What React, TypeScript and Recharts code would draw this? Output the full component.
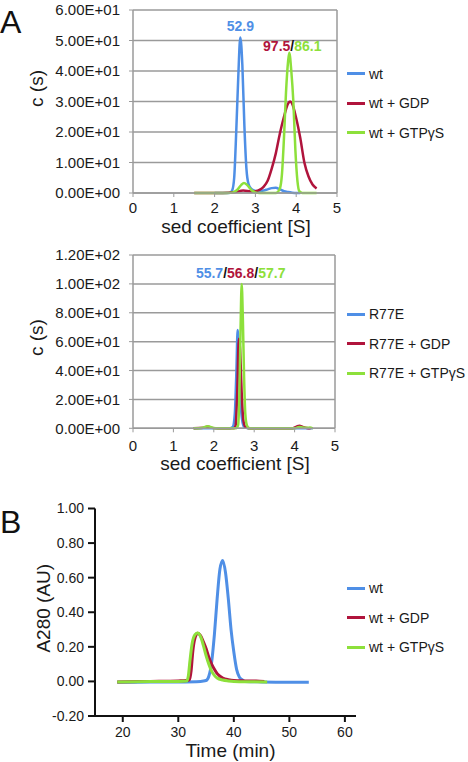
import { CartesianGrid, Legend, Line, LineChart, ReferenceDot, ReferenceLine, XAxis, YAxis } from 'recharts';

const FONT = "'Liberation Sans', Arial, Helvetica, sans-serif";
const BLUE = '#4f8fe6';
const RED = '#b0143c';
const GREEN = '#8de03b';
const GRID = '#9a9a9a';
const INK = '#1a1a1a';

// axes
const sedTicks = [0, 1, 2, 3, 4, 5];
const wtYTicks = [0, 10, 20, 30, 40, 50, 60];
const r77YTicks = [0, 20, 40, 60, 80, 100, 120];
const timeTicks = [20, 30, 40, 50, 60];
const absTicks = [-0.2, 0, 0.2, 0.4, 0.6, 0.8, 1.0];

const wtNames = ['wt', 'wt + GDP', 'wt + GTPγS'];
const r77Names = ['R77E', 'R77E + GDP', 'R77E + GTPγS'];

// A, top: wt c(s)
const wtSedX = [2.0, 2.3, 2.38, 2.43, 2.48, 2.53, 2.58, 2.63, 2.68, 2.73, 2.78, 2.83, 2.9, 3.0, 3.1, 3.2, 3.3, 3.4, 3.5, 3.6, 3.7, 3.8, 3.9, 4.0, 4.1];
const wtSedC = [0, 0, 0.1, 0.8, 5, 20, 38, 51, 42, 22, 8, 3, 1.3, 0.7, 0.6, 0.8, 1.2, 1.6, 1.7, 1.2, 0.6, 0.3, 0.1, 0, 0];
const gdpSedX = [1.5, 2.2, 2.5, 2.7, 2.9, 3.0, 3.1, 3.2, 3.3, 3.4, 3.5, 3.6, 3.7, 3.8, 3.85, 3.9, 4.0, 4.1, 4.2, 4.3, 4.4, 4.5];
const gdpSedC = [0, 0, 0.3, 0.8, 0.5, 0.6, 1.0, 2.0, 4.0, 8.0, 13, 19.5, 25, 29.3, 30, 29.3, 24.5, 18, 10, 5.5, 2.8, 1.5];
const gtpSedX = [1.5, 2.3, 2.45, 2.55, 2.65, 2.72, 2.8, 2.9, 3.0, 3.1, 3.5, 3.6, 3.65, 3.7, 3.75, 3.8, 3.83, 3.88, 3.93, 3.98, 4.03, 4.08, 4.15, 4.5];
const gtpSedC = [0, 0, 0.2, 1.0, 2.6, 3.3, 2.6, 1.0, 0.2, 0, 0, 1.5, 6, 18, 33, 43, 46, 40, 30, 14, 4, 0.5, 0, 0];

// A, bottom: R77E c(s)
const r77SedX = [1.5, 2.4, 2.47, 2.52, 2.56, 2.59, 2.62, 2.66, 2.7, 2.75, 2.85, 4.45];
const r77SedC = [0, 0, 1, 10, 40, 68, 50, 20, 6, 1, 0, 0];
const r77GdpX = [1.5, 1.75, 1.85, 1.95, 2.1, 2.5, 2.54, 2.58, 2.62, 2.65, 2.69, 2.73, 2.78, 2.9, 3.95, 4.05, 4.12, 4.2, 4.3, 4.4];
const r77GdpC = [0, 0.3, 1.2, 0.3, 0, 0, 2, 25, 62, 55, 25, 6, 1, 0, 0, 1.2, 1.8, 1, 0.2, 0];
const r77GtpX = [1.5, 1.7, 1.78, 1.85, 1.92, 2.0, 2.1, 2.55, 2.6, 2.63, 2.66, 2.69, 2.72, 2.75, 2.78, 2.82, 2.88, 4.0, 4.07, 4.13, 4.2, 4.3, 4.38, 4.45];
const r77GtpC = [0, 0.2, 1, 1.5, 1, 0.2, 0, 0, 2, 20, 65, 100, 75, 35, 10, 2, 0, 0, 0.6, 0.9, 0.5, 0.3, 0.5, 0];

// peak labels (value texts, which series colours them)
const wtPeaks = [
  { x: 2.63, y: 51, texts: ['52.9'], series: [0] },
  { x: 3.83, y: 46, texts: ['97.5', '86.1'], series: [1, 2] },
];
const r77Peaks = [{ x: 2.69, y: 100, texts: ['55.7', '56.8', '57.7'], series: [0, 1, 2] }];

// B: A280 vs time
const wtTime = [19, 25, 30, 34, 35, 35.5, 36, 36.5, 37, 37.5, 38, 38.5, 39, 39.5, 40, 40.5, 41, 41.5, 42, 45, 50, 53.5];
const wtA280 = [-0.005, -0.004, -0.003, 0, 0.005, 0.03, 0.11, 0.27, 0.48, 0.65, 0.7, 0.63, 0.48, 0.3, 0.17, 0.07, 0.025, 0.01, 0, -0.003, -0.005, -0.005];
const gdpTime = [19, 25, 30, 31.5, 32, 32.3, 32.6, 33, 33.5, 34, 34.5, 35, 35.5, 36, 36.5, 37, 37.5, 38, 39, 40, 42, 44, 45.5];
const gdpA280 = [-0.003, 0, 0.003, 0.005, 0.01, 0.06, 0.17, 0.25, 0.278, 0.265, 0.23, 0.19, 0.14, 0.1, 0.07, 0.045, 0.03, 0.02, 0.01, 0.005, 0.003, 0.002, 0];
const gtpTime = [19, 25, 30, 31.5, 31.8, 32.1, 32.5, 33, 33.5, 34, 34.5, 35, 35.5, 36, 36.5, 37, 38, 39, 40, 43, 46];
const gtpA280 = [-0.003, 0, 0, 0.002, 0.03, 0.12, 0.22, 0.27, 0.28, 0.26, 0.21, 0.15, 0.1, 0.06, 0.035, 0.02, 0.008, 0.003, 0, -0.002, -0.003];

const COLORS = [BLUE, RED, GREEN];
const toPoints = (xs: number[], ys: number[]) => xs.map((x, i) => ({ x, y: ys[i] }));

const sci = (v: number) => {
  const [m, e] = v.toExponential(2).split('e');
  return `${m}E${e[0]}${e.slice(1).padStart(2, '0')}`;
};

const renderLegend = (props: any) => (
  <div>
    {(props.payload || []).map((e: any) => (
      <div key={e.value} style={{ display: 'flex', alignItems: 'center', height: 29.5 }}>
        <span style={{ display: 'inline-block', width: 18, height: 3, background: e.color, marginRight: 4 }} />
        <span style={{ fontSize: 14, color: INK, fontFamily: FONT, whiteSpace: 'nowrap' }}>{e.value}</span>
      </div>
    ))}
  </div>
);

const XTitle = ({ viewBox, text, shiftX = 0, baseDy }: any) => (
  <text x={viewBox.x + viewBox.width / 2 + shiftX} y={viewBox.y + baseDy} textAnchor="middle" fontSize={19} fontFamily={FONT} fill={INK}>
    {text}
  </text>
);

const YTitle = ({ viewBox, text, baseX, shift = 0 }: any) => (
  <text
    transform={`translate(${viewBox.x + baseX},${viewBox.y + viewBox.height / 2 + shift}) rotate(-90)`}
    textAnchor="middle"
    fontSize={19}
    fontFamily={FONT}
    fill={INK}
  >
    {text}
  </text>
);

const PeakLabel = ({ viewBox, texts, series, offX = 0, offY = 0 }: any) => {
  const cx = viewBox.x + viewBox.width / 2 + offX;
  const cy = viewBox.y + viewBox.height / 2 + offY;
  return (
    <text x={cx} y={cy} textAnchor="middle" fontSize={14} fontWeight="bold" fontFamily={FONT}>
      {texts.map((t: string, i: number) => (
        <tspan key={i} fill={COLORS[series[i]]}>
          {i > 0 ? <tspan fill="#111">/</tspan> : null}
          {t}
        </tspan>
      ))}
    </text>
  );
};

function SedPanel({ top, plotTop, plotBottom, plotRight, yTicks, series, peaks, peakOffsets, legendTop, xTickMargin, xTitleDy, yTitleShift }: any) {
  const H = 245;
  const XH = 50;
  return (
    <div style={{ position: 'absolute', left: 0, top, width: 468, height: H }}>
      <LineChart width={468} height={H} margin={{ top: plotTop, right: 468 - plotRight, left: 8, bottom: H - plotBottom - XH }}>
        <CartesianGrid horizontal vertical={false} stroke={GRID} strokeWidth={1.5} />
        <XAxis
          dataKey="x"
          type="number"
          domain={[0, 5]}
          ticks={sedTicks}
          height={XH}
          axisLine={{ stroke: GRID, strokeWidth: 1.5 }}
          tickLine={{ stroke: GRID }}
          tickSize={4}
          tickMargin={xTickMargin}
          tick={{ fill: INK, fontSize: 15, fontFamily: FONT }}
          label={<XTitle text="sed coefficient [S]" baseDy={xTitleDy} shiftX={1} />}
        />
        <YAxis
          type="number"
          domain={[yTicks[0], yTicks[yTicks.length - 1]]}
          ticks={yTicks}
          width={125}
          tickFormatter={sci}
          axisLine={{ stroke: GRID, strokeWidth: 1.5 }}
          tickLine={{ stroke: GRID }}
          tickSize={4}
          tickMargin={9}
          tick={{ fill: INK, fontSize: 15, fontFamily: FONT }}
          label={<YTitle text="c (s)" baseX={35} shift={yTitleShift} />}
        />
        <ReferenceLine x={5} stroke={GRID} strokeWidth={1.5} />
        {series.map((s: any) => (
          <Line
            key={s.name}
            data={s.data}
            dataKey="y"
            name={s.name}
            type="monotone"
            stroke={s.color}
            strokeWidth={2.5}
            dot={false}
            activeDot={false}
            isAnimationActive={false}
          />
        ))}
        {peaks.map((p: any, i: number) => (
          <ReferenceDot
            key={i}
            x={p.x}
            y={p.y}
            r={1}
            fill="none"
            stroke="none"
            label={<PeakLabel texts={p.texts} series={p.series} offX={peakOffsets[i][0]} offY={peakOffsets[i][1]} />}
          />
        ))}
        <Legend layout="vertical" align="center" verticalAlign="middle" wrapperStyle={{ left: 347, top: legendTop, width: 121 }} content={renderLegend} />
      </LineChart>
    </div>
  );
}

function GelPanel() {
  const H = 272;
  const series = [
    { name: wtNames[0], color: BLUE, data: toPoints(wtTime, wtA280) },
    { name: wtNames[1], color: RED, data: toPoints(gdpTime, gdpA280) },
    { name: wtNames[2], color: GREEN, data: toPoints(gtpTime, gtpA280) },
  ];
  return (
    <div style={{ position: 'absolute', left: 0, top: 490, width: 468, height: H }}>
      <LineChart width={468} height={H} margin={{ top: 18.5, right: 112, left: 8, bottom: 2 }}>
        <XAxis
          dataKey="x"
          type="number"
          domain={[15, 62]}
          ticks={timeTicks}
          height={44}
          axisLine={{ stroke: '#111', strokeWidth: 2 }}
          tickLine={{ stroke: '#111', strokeWidth: 2 }}
          tickSize={6}
          tickMargin={5}
          tick={{ fill: INK, fontSize: 14, fontFamily: FONT }}
          label={<XTitle text="Time (min)" baseDy={41} shiftX={5} />}
        />
        <YAxis
          type="number"
          domain={[-0.2, 1.0]}
          ticks={absTicks}
          width={87}
          tickFormatter={(v: number) => v.toFixed(2)}
          axisLine={{ stroke: '#111', strokeWidth: 2 }}
          tickLine={{ stroke: '#111', strokeWidth: 2 }}
          tickSize={7}
          tickMargin={4}
          tick={{ fill: INK, fontSize: 14, fontFamily: FONT }}
          label={<YTitle text="A280 (AU)" baseX={42} shift={-4} />}
        />
        {series.map((s) => (
          <Line
            key={s.name}
            data={s.data}
            dataKey="y"
            name={s.name}
            type="monotone"
            stroke={s.color}
            strokeWidth={3}
            dot={false}
            activeDot={false}
            isAnimationActive={false}
          />
        ))}
        <Legend layout="vertical" align="center" verticalAlign="middle" wrapperStyle={{ left: 347, top: 83.5, width: 121 }} content={renderLegend} />
      </LineChart>
    </div>
  );
}

const letter = (top: number) => ({
  position: 'absolute' as const,
  left: 0,
  top,
  fontSize: 32,
  lineHeight: '32px',
  fontFamily: FONT,
  color: '#111',
});

export default function App() {
  const wtSeries = [
    { name: wtNames[0], color: BLUE, data: toPoints(wtSedX, wtSedC) },
    { name: wtNames[1], color: RED, data: toPoints(gdpSedX, gdpSedC) },
    { name: wtNames[2], color: GREEN, data: toPoints(gtpSedX, gtpSedC) },
  ];
  const r77Series = [
    { name: r77Names[0], color: BLUE, data: toPoints(r77SedX, r77SedC) },
    { name: r77Names[1], color: RED, data: toPoints(r77GdpX, r77GdpC) },
    { name: r77Names[2], color: GREEN, data: toPoints(r77GtpX, r77GtpC) },
  ];
  return (
    <div style={{ position: 'absolute', left: 0, top: 0, width: 468, height: 762, background: '#fff', overflow: 'hidden' }}>
      <div style={letter(6)}>A</div>
      <SedPanel
        top={0}
        plotTop={10}
        plotBottom={193}
        plotRight={337}
        yTicks={wtYTicks}
        series={wtSeries}
        peaks={wtPeaks}
        peakOffsets={[[0, -6], [3, -2]]}
        legendTop={59}
        xTickMargin={5}
        xTitleDy={40}
        yTitleShift={-13}
      />
      <SedPanel
        top={245}
        plotTop={10}
        plotBottom={183.3}
        plotRight={335}
        yTicks={r77YTicks}
        series={r77Series}
        peaks={r77Peaks}
        peakOffsets={[[-1, -6]]}
        legendTop={54.5}
        xTickMargin={8}
        xTitleDy={41.7}
        yTitleShift={-4}
      />
      <div style={letter(506)}>B</div>
      <GelPanel />
    </div>
  );
}
